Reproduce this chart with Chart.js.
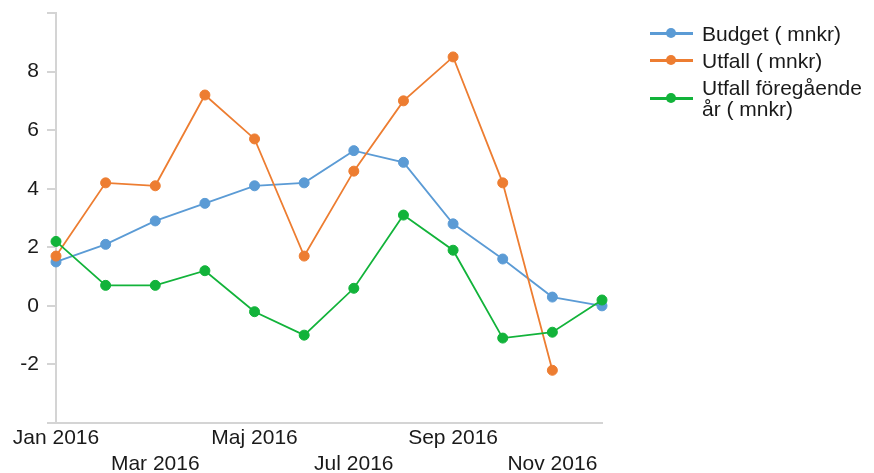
<!DOCTYPE html>
<html>
<head>
<meta charset="utf-8">
<script src="https://cdn.jsdelivr.net/npm/chart.js@4"></script>
<style>
  html, body { margin: 0; padding: 0; background: #fff; }
  #wrap { position: relative; width: 874px; height: 473px; }
  #legend { position: absolute; left: 650px; top: 0; font-family: "Liberation Sans", Arial, sans-serif; font-size: 21px; color: #1a1a1a; }
  .item { position: absolute; left: 0; white-space: nowrap; }
  .swatch { position: absolute; left: 0; width: 43px; height: 3px; }
  .dot { position: absolute; left: 16px; top: -3.5px; width: 10px; height: 10px; border-radius: 50%; }
  .txt { position: absolute; left: 52px; line-height: 21px; }
</style>
</head>
<body>
<div id="wrap">
  <canvas id="c" width="874" height="473"></canvas>
  <div id="legend"></div>
</div>
<script>
const months = ["Jan 2016", "Feb 2016", "Mar 2016", "Apr 2016", "Maj 2016", "Jun 2016",
  "Jul 2016", "Aug 2016", "Sep 2016", "Okt 2016", "Nov 2016", "Dec 2016"];
const budget = [1.5, 2.1, 2.9, 3.5, 4.1, 4.2, 5.3, 4.9, 2.8, 1.6, 0.3, 0.0];
const utfall = [1.7, 4.2, 4.1, 7.2, 5.7, 1.7, 4.6, 7.0, 8.5, 4.2, -2.2, null];
const utfallFg = [2.2, 0.7, 0.7, 1.2, -0.2, -1.0, 0.6, 3.1, 1.9, -1.1, -0.9, 0.2];
const seriesNames = ["Budget ( mnkr)", "Utfall ( mnkr)", "Utfall föregående år ( mnkr)"];
const seriesColors = ["#5B9BD5", "#ED7D31", "#12B33A"];

const font = { family: "'Liberation Sans', Arial, sans-serif", size: 21 };
const axisGrey = "#d4d4d4";

function ds(i, data, order) {
  return {
    label: seriesNames[i],
    data,
    order,
    borderColor: seriesColors[i],
    backgroundColor: seriesColors[i],
    borderWidth: 1.8,
    pointRadius: 5,
    pointBorderWidth: 1,
    pointBackgroundColor: seriesColors[i],
    tension: 0,
    spanGaps: false,
  };
}

new Chart(document.getElementById("c"), {
  type: "line",
  data: {
    labels: months,
    datasets: [ds(0, budget, 2), ds(1, utfall, 1), ds(2, utfallFg, 0)],
  },
  options: {
    responsive: false,
    animation: false,
    layout: { padding: { top: 13, right: 272, left: 0, bottom: 0 } },
    plugins: { legend: { display: false }, tooltip: { enabled: false } },
    scales: {
      x: {
        offset: false,
        grid: { display: true, drawOnChartArea: false, drawTicks: false, color: "rgba(0,0,0,0)" },
        border: { display: true, color: axisGrey, width: 2 },
        ticks: {
          autoSkip: false,
          maxRotation: 0,
          padding: 2,
          color: "#1a1a1a",
          font: { ...font, lineHeight: 1.24 },
          callback: (v, i) => {
            if (i % 2 !== 0) return "";
            return (i / 2) % 2 === 0 ? months[i] : ["", months[i]];
          },
        },
        afterFit: (s) => { s.height = 50; },
      },
      y: {
        min: -4,
        max: 10,
        grid: { drawOnChartArea: false, color: axisGrey, tickLength: 9, lineWidth: 2 },
        border: { display: true, color: axisGrey, width: 2 },
        ticks: {
          stepSize: 2,
          padding: 8,
          color: "#1a1a1a",
          font,
          callback: (v) => (v === -4 || v === 10 ? "" : v),
        },
        afterFit: (s) => {
          s.width = 56;
          s.paddingTop = 0;
          s.paddingBottom = 0;
        },
      },
    },
  },
});

// legend
const legendEl = document.getElementById("legend");
const rows = [
  { y: 33, lines: ["Budget ( mnkr)"] },
  { y: 60, lines: ["Utfall ( mnkr)"] },
  { y: 98, lines: ["Utfall föregående", "år ( mnkr)"] },
];
rows.forEach((r, i) => {
  const item = document.createElement("div");
  item.className = "item";
  item.style.top = r.y + "px";
  const sw = document.createElement("div");
  sw.className = "swatch";
  sw.style.background = seriesColors[i];
  sw.style.top = "-1.5px";
  const dot = document.createElement("div");
  dot.className = "dot";
  dot.style.background = seriesColors[i];
  sw.appendChild(dot);
  const txt = document.createElement("div");
  txt.className = "txt";
  txt.style.top = (-r.lines.length * 21 / 2) + "px";
  txt.innerHTML = r.lines.join("<br>");
  item.appendChild(sw);
  item.appendChild(txt);
  legendEl.appendChild(item);
});
</script>
</body>
</html>
